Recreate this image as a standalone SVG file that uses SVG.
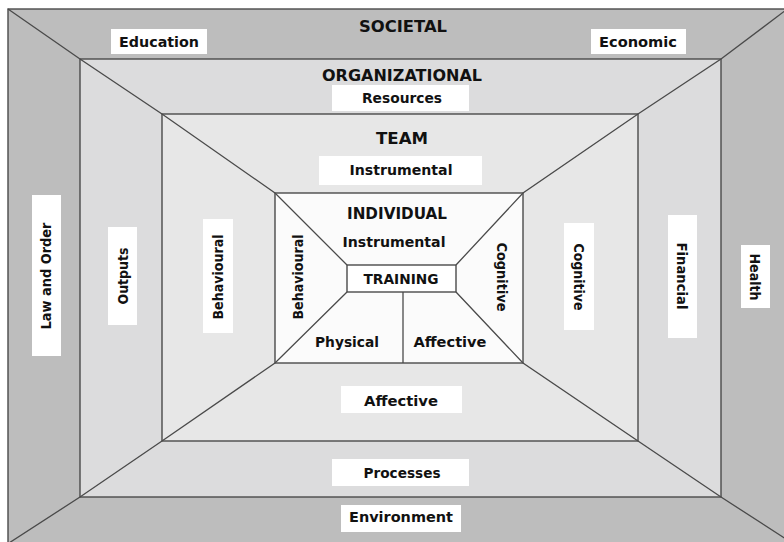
<svg xmlns="http://www.w3.org/2000/svg" width="784" height="542" viewBox="0 0 784 542">
  <style>
    .band { stroke: #4a4a4a; stroke-width: 1.4; }
    .societal { fill: #bdbdbd; }
    .org { fill: #dcdcdd; }
    .team { fill: #e7e7e7; }
    .indiv { fill: #fbfbfb; }
    .tag { fill: #ffffff; stroke: none; }
    .lbl { font-family: "DejaVu Sans", Verdana, sans-serif; font-weight: bold; font-size: 14.5px; fill: #111111; text-anchor: middle; }
    .head { font-family: "DejaVu Sans", Verdana, sans-serif; font-weight: bold; font-size: 16.5px; fill: #111111; text-anchor: middle; }
    .conn { fill: none; stroke: #4a4a4a; stroke-width: 1.3; }
  </style>
  <rect x="0" y="0" width="784" height="542" fill="#ffffff"/>

  <!-- Outer ring: societal level -->
  <g id="societal">
    <rect class="band societal" x="8" y="9" width="782" height="540"/>
    <text class="head" x="403" y="32" textLength="88" lengthAdjust="spacingAndGlyphs">SOCIETAL</text>
    <rect class="tag" x="111" y="29" width="96" height="25"/>
    <text class="lbl" x="159" y="47" textLength="80" lengthAdjust="spacingAndGlyphs">Education</text>
    <rect class="tag" x="591" y="29" width="95" height="25"/>
    <text class="lbl" x="638" y="47" textLength="78" lengthAdjust="spacingAndGlyphs">Economic</text>
    <rect class="tag" x="341" y="505" width="120" height="27"/>
    <text class="lbl" x="401" y="522" textLength="104" lengthAdjust="spacingAndGlyphs">Environment</text>
    <rect class="tag" x="32" y="195" width="29" height="161"/>
    <text class="lbl" transform="translate(46,276) rotate(-90)" x="0" y="5" textLength="107" lengthAdjust="spacingAndGlyphs">Law and Order</text>
    <rect class="tag" x="741" y="245" width="29" height="63"/>
    <text class="lbl" transform="translate(755,277) rotate(90)" x="0" y="5" textLength="47" lengthAdjust="spacingAndGlyphs">Health</text>
  </g>

  <!-- Second ring: organizational level -->
  <g id="organizational">
    <rect class="band org" x="80" y="59" width="641" height="438"/>
    <text class="head" x="402" y="81" textLength="160" lengthAdjust="spacingAndGlyphs">ORGANIZATIONAL</text>
    <rect class="tag" x="332" y="85" width="137" height="26"/>
    <text class="lbl" x="402" y="103" textLength="80" lengthAdjust="spacingAndGlyphs">Resources</text>
    <rect class="tag" x="332" y="459" width="137" height="27"/>
    <text class="lbl" x="402" y="478" textLength="77" lengthAdjust="spacingAndGlyphs">Processes</text>
    <rect class="tag" x="108" y="227" width="29" height="98"/>
    <text class="lbl" transform="translate(123,276) rotate(-90)" x="0" y="5" textLength="57" lengthAdjust="spacingAndGlyphs">Outputs</text>
    <rect class="tag" x="668" y="215" width="29" height="123"/>
    <text class="lbl" transform="translate(682,276) rotate(90)" x="0" y="5" textLength="67" lengthAdjust="spacingAndGlyphs">Financial</text>
  </g>

  <!-- Third ring: team level -->
  <g id="team">
    <rect class="band team" x="162" y="114" width="476" height="327"/>
    <text class="head" x="402" y="144" textLength="52" lengthAdjust="spacingAndGlyphs">TEAM</text>
    <rect class="tag" x="319" y="156" width="163" height="29"/>
    <text class="lbl" x="401" y="175" textLength="103" lengthAdjust="spacingAndGlyphs">Instrumental</text>
    <rect class="tag" x="341" y="386" width="121" height="27"/>
    <text class="lbl" x="401" y="406" textLength="74" lengthAdjust="spacingAndGlyphs">Affective</text>
    <rect class="tag" x="203" y="219" width="30" height="114"/>
    <text class="lbl" transform="translate(218,277) rotate(-90)" x="0" y="5" textLength="85" lengthAdjust="spacingAndGlyphs">Behavioural</text>
    <rect class="tag" x="564" y="223" width="30" height="107"/>
    <text class="lbl" transform="translate(579,277) rotate(90)" x="0" y="5" textLength="67" lengthAdjust="spacingAndGlyphs">Cognitive</text>
  </g>

  <!-- Inner box: individual level -->
  <g id="individual">
    <rect class="band indiv" x="275" y="193" width="248" height="170"/>
    <text class="head" x="397" y="219" textLength="100" lengthAdjust="spacingAndGlyphs">INDIVIDUAL</text>
    <text class="lbl" x="394" y="247" textLength="103" lengthAdjust="spacingAndGlyphs">Instrumental</text>
    <text class="lbl" x="347" y="347" textLength="64" lengthAdjust="spacingAndGlyphs">Physical</text>
    <text class="lbl" x="450" y="347" textLength="73" lengthAdjust="spacingAndGlyphs">Affective</text>
    <text class="lbl" transform="translate(298,277) rotate(-90)" x="0" y="5" textLength="85" lengthAdjust="spacingAndGlyphs">Behavioural</text>
    <text class="lbl" transform="translate(502,277) rotate(90)" x="0" y="5" textLength="69" lengthAdjust="spacingAndGlyphs">Cognitive</text>
  </g>

  <!-- Core: training -->
  <g id="training">
    <rect class="band" fill="#ffffff" x="347" y="265" width="109" height="27"/>
    <text class="lbl" x="401" y="284" textLength="75" lengthAdjust="spacingAndGlyphs">TRAINING</text>
  </g>

  <!-- Corner diagonals and the split under the core -->
  <g id="connectors">
    <polyline class="conn" points="8,9 80,59 162,114 275,193 347,265"/>
    <polyline class="conn" points="786,10 721,59 638,114 523,193 456,265"/>
    <polyline class="conn" points="9,543 80,497 162,441 275,363 347,292"/>
    <polyline class="conn" points="786,539 721,497 638,441 523,363 456,292"/>
    <line class="conn" x1="403" y1="292" x2="403" y2="363"/>
  </g>
</svg>
